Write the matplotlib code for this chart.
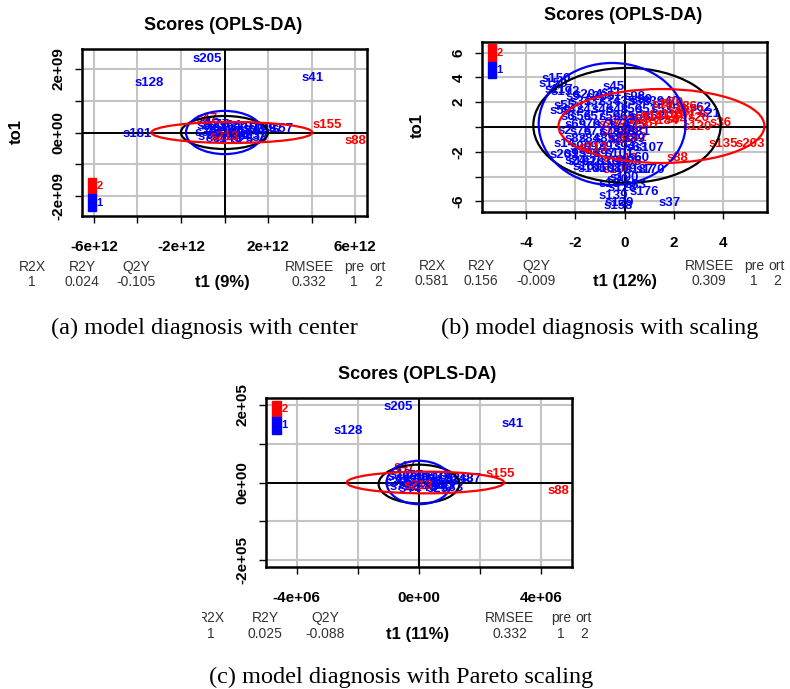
import matplotlib
matplotlib.use('Agg')
import matplotlib.pyplot as plt
from matplotlib.patches import Ellipse, Rectangle
from matplotlib.transforms import Bbox, TransformedBbox

W, H = 790, 689
plt.rcParams['font.family'] = ['Liberation Sans', 'DejaVu Sans']

BLUE = '#0000ff'
RED = '#ff0000'
GRID = '#c4c4c4'
GROUP_COL = {1: BLUE, 2: RED}

# ---------------- (a) centering : t1 in units of 1e12, to1 in units of 1e9
a_names = ['s128', 's205', 's41', 's181', 's47',
           's3', 's12', 's90', 's77', 's15', 's64', 's63', 's101', 's52', 's148',
           's97', 's57', 's30', 's8', 's19', 's112', 's66', 's83', 's33', 's140',
           's25', 's71', 's176', 's44',
           's213', 's155', 's88']
a_t1 = [-3.45, -0.78, 4.05, -4.0, -0.8,
        -0.95, -0.7, -0.5, -0.25, -0.05, 0.3, 0.6, 0.95, 1.35, 1.75,
        2.2, 2.65, -0.85, -0.5, -0.2, 0.25, 0.65, 1.15, 1.5, 0.15,
        0.85, -0.75, 1.0, -0.35,
        -0.03, 4.73, 6.0]
a_to1 = [1.57, 2.33, 1.73, -0.06, 0.44,
         0.22, 0.28, 0.18, 0.24, 0.15, 0.2, 0.12, 0.16, 0.1, 0.12,
         0.1, 0.1, -0.02, -0.08, 0.02, -0.05, -0.12, -0.1, -0.18, -0.2,
         -0.24, -0.14, 0.02, -0.2,
         -0.13, 0.25, -0.28]
a_grp = [1, 1, 1, 1, 2] + [1] * 24 + [2, 2, 2]
# ellipses: black (all), blue (group 1), red (group 2)
a_ell_x = [0.0, 0.0, 0.34]
a_ell_y = [0.0, 0.0, 0.0]
a_ell_w = [4.0, 3.54, 7.4]
a_ell_h = [1.04, 1.36, 0.66]
a_xticks = [-6, -4, -2, 0, 2, 4, 6]
a_xlabels = ['-6e+12', '', '-2e+12', '', '2e+12', '', '6e+12']
a_yticks = [-2, -1, 0, 1, 2]
a_ylabels = ['-2e+09', '', '0e+00', '', '2e+09']
a_diag = ['1', '0.024', '-0.105', '0.332', '1', '2']
a_xlab = 't1 (9%)'

# ---------------- (b) unit variance scaling
# red samples sitting in the middle of the blue cloud (drawn underneath it)
b_red0_names = ['s5', 's133', 's73', 's27', 's155', 's110', 's142', 's183', 's213', 's100',
                's114', 's47']
b_red0_t1 = [0.3, -0.2, 0.5, -0.6, 0.1, -0.4, 0.3, -0.1, -1.25, -0.3, -0.3, 0.1]
b_red0_to1 = [0.6, 0.45, 0.05, 0.2, -0.2, -0.5, -0.9, -1.05, -1.7, -3.5, -2.8, -2.6]
b_blue_names = ['s159', 's150', 's192', 's117', 's204', 's45', 's11', 's98', 's99', 's62',
                's21', 's9', 's205', 's55', 's58', 's6', 's2', 's14', 's201', 's24',
                's31', 's32', 's34', 's35', 's38', 's39', 's40',
                's42', 's43', 's46', 's48', 's50', 's51', 's53', 's54',
                's56', 's57', 's59', 's65', 's66', 's68',
                's69', 's70', 's71', 's74', 's75',
                's76', 's77', 's78', 's80', 's81',
                's82', 's84', 's85', 's87', 's89',
                's90', 's92', 's93', 's94',
                's95', 's96', 's97', 's101',
                's102', 's103', 's104', 's105',
                's106', 's108', 's109',
                's107', 's63', 's60', 's170', 's187', 's176', 's139', 's158', 's129',
                's37', 's30', 's18', 's161', 's190', 's83', 's128']
b_blue_t1 = [-2.9, -2.75, -2.4, -2.65, -1.45, -0.45, -0.55, 0.4, 0.7, 3.1,
             3.45, -2.1, -1.0, -2.45, -2.6, -2.3, -2.4, -2.45, -2.45, -2.0,
             -1.8, -1.2, -0.6, 0.0, 0.6, 1.2, 1.8,
             -2.1, -1.5, -0.9, -0.3, 0.3, 0.9, 1.5, 2.1,
             -1.8, -1.2, -0.6, 0.0, 0.6, 1.2,
             -2.0, -1.4, -0.8, -0.2, 0.4,
             -1.8, -1.2, -0.6, 0.0, 0.6,
             -2.0, -1.4, -0.8, -0.2, 0.4,
             -1.8, -1.2, -0.6, 0.0,
             -2.0, -1.4, -0.8, -0.2,
             -1.7, -1.1, -0.5, 0.1,
             -1.3, -0.7, -0.1,
             1.0, 0.5, 0.55, 1.05, 0.6, 0.8, -0.45, -0.25, -0.2,
             1.85, -0.3, -0.6, -1.5, 0.0, 0.45, -0.1]
b_blue_to1 = [3.5, 3.85, 2.8, 2.95, 2.6, 3.2, 2.7, 2.4, 2.2, 1.5,
              1.05, 2.4, 2.45, 1.7, 1.25, 0.8, -0.35, -1.35, -2.25, -2.7,
              2.0, 2.0, 2.0, 2.0, 2.0, 2.0, 2.0,
              1.4, 1.4, 1.4, 1.4, 1.4, 1.4, 1.4, 1.4,
              0.8, 0.8, 0.8, 0.8, 0.8, 0.8,
              0.2, 0.2, 0.2, 0.2, 0.2,
              -0.4, -0.4, -0.4, -0.4, -0.4,
              -1.0, -1.0, -1.0, -1.0, -1.0,
              -1.6, -1.6, -1.6, -1.6,
              -2.2, -2.2, -2.2, -2.2,
              -2.8, -2.8, -2.8, -2.8,
              -3.4, -3.4, -3.4,
              -1.7, -1.7, -2.5, -3.5, -3.5, -5.2, -5.6, -6.4, -6.1,
              -6.1, -4.3, -4.6, -3.2, -4.1, -4.7, -4.9]
# red samples on the right-hand side (drawn on top)
b_red1_names = ['s79', 's19', 's86', 's49', 's72', 's116', 's61', 's141', 's26', 's91',
                's64', 's184', 's36', 's67', 's120', 's88', 's135', 's203', 's213']
b_red1_t1 = [1.95, 1.55, 2.5, 2.2, 2.8, 1.8, 2.45, 1.3, 3.0, 0.8,
             2.1, 1.6, 3.9, 1.0, 2.95, 2.15, 4.0, 5.1, -1.25]
b_red1_to1 = [1.9, 1.75, 1.6, 1.3, 1.2, 1.0, 0.9, 0.85, 0.75, 0.7,
              0.55, 0.45, 0.3, 0.25, 0.0, -2.5, -1.4, -1.4, -1.7]
b_names = b_red0_names + b_blue_names + b_red1_names
b_t1 = b_red0_t1 + b_blue_t1 + b_red1_t1
b_to1 = b_red0_to1 + b_blue_to1 + b_red1_to1
b_grp = [2] * len(b_red0_names) + [1] * len(b_blue_names) + [2] * len(b_red1_names)
b_ell_x = [0.1, -0.5, 1.5]
b_ell_y = [0.13, 0.24, 0.08]
b_ell_w = [7.6, 5.96, 8.35]
b_ell_h = [9.26, 9.84, 5.96]
b_xticks = [-4, -2, 0, 2, 4]
b_xlabels = ['-4', '-2', '0', '2', '4']
b_yticks = [-6, -4, -2, 0, 2, 4, 6]
b_ylabels = ['-6', '', '-2', '', '2', '4', '6']
b_diag = ['0.581', '0.156', '-0.009', '0.309', '1', '2']
b_xlab = 't1 (12%)'

# ---------------- (c) Pareto scaling : t1 in units of 1e6, to1 in units of 1e5
c_names = ['s128', 's205', 's41', 's47',
           's3', 's12', 's90', 's77', 's15', 's64', 's63', 's101', 's52', 's148',
           's87', 's30', 's8', 's19', 's112', 's66', 's83', 's33', 's140',
           's25', 's71', 's176', 's44',
           's213', 's155', 's88']
c_t1 = [-2.32, -0.69, 3.07, -0.46,
        -0.8, -0.6, -0.4, -0.2, 0.0, 0.2, 0.4, 0.7, 1.0, 1.3,
        1.67, -0.75, -0.45, -0.15, 0.2, 0.5, 0.85, 1.1, 0.1,
        0.6, -0.6, 0.8, -0.3,
        -0.03, 2.65, 4.57]
c_to1 = [1.34, 1.96, 1.52, 0.39,
         0.15, 0.2, 0.12, 0.18, 0.1, 0.15, 0.13, 0.12, 0.1, 0.1,
         0.1, -0.02, -0.06, 0.03, -0.04, -0.1, -0.08, -0.13, -0.15,
         -0.18, -0.12, 0.02, -0.16,
         -0.08, 0.23, -0.21]
c_grp = [1, 1, 1, 2] + [1] * 23 + [2, 2, 2]
c_ell_x = [0.0, 0.0, 0.21]
c_ell_y = [-0.04, 0.0, 0.0]
c_ell_w = [2.64, 2.12, 5.14]
c_ell_h = [1.0, 1.12, 0.56]
c_xticks = [-4, -2, 0, 2, 4]
c_xlabels = ['-4e+06', '', '0e+00', '', '4e+06']
c_yticks = [-2, -1, 0, 1, 2]
c_ylabels = ['-2e+05', '', '0e+00', '', '2e+05']
c_diag = ['1', '0.025', '-0.088', '0.332', '1', '2']
c_xlab = 't1 (11%)'

diag_heads = ['R2X', 'R2Y', 'Q2Y', 'RMSEE', 'pre', 'ort']
title = 'Scores (OPLS-DA)'
captions = ['(a) model diagnosis with center',
            '(b) model diagnosis with scaling',
            '(c) model diagnosis with Pareto scaling']

fig = plt.figure(figsize=(W / 100, H / 100), dpi=100)


def fig_box(x0, y0, x1, y1):
    return [x0 / W, 1 - y1 / H, (x1 - x0) / W, (y1 - y0) / H]


def ftext(x, y, s, **kw):
    return fig.text(x / W, 1 - y / H, s, ha='center', va='center', **kw)


def score_panel(box, names, t1, to1, grp, ell, lims, ticks, legend_px):
    ax = fig.add_axes(fig_box(*box))
    ax.set_xlim(-lims[0], lims[0])
    ax.set_ylim(-lims[1], lims[1])
    ax.set_xticks(ticks[0])
    ax.set_xticklabels(ticks[1], fontweight='bold')
    ax.set_yticks(ticks[2])
    ax.set_yticklabels(ticks[3], fontweight='bold', rotation=90, va='center')
    ax.tick_params(direction='out', length=5, width=1, labelsize=11)
    ax.tick_params(axis='x', pad=12)
    ax.tick_params(axis='y', pad=7)
    ax.grid(True, color=GRID, lw=1.5)
    ax.set_axisbelow(True)
    for sp in ax.spines.values():
        sp.set_linewidth(1.8)
    ax.axhline(0, color='black', lw=1.4, zorder=1.5)
    ax.axvline(0, color='black', lw=1.4, zorder=1.5)
    for n, x, y, g in zip(names, t1, to1, grp):
        ax.text(x, y, n, color=GROUP_COL[g], ha='center', va='center',
                fontsize=9.5, fontweight='bold', clip_on=True, zorder=3)
    for (ex, ey, ew, eh), col in zip(zip(*ell), ['black', BLUE, RED]):
        ax.add_patch(Ellipse((ex, ey), ew, eh, fill=False, ec=col, lw=1.6, zorder=4))
    # group colour key
    lx0, lx1, ly0, ly1, ly2 = legend_px
    fig.add_artist(Rectangle((lx0 / W, 1 - ly1 / H), (lx1 - lx0) / W, (ly1 - ly0) / H,
                             transform=fig.transFigure, color=RED, zorder=5))
    fig.add_artist(Rectangle((lx0 / W, 1 - ly2 / H), (lx1 - lx0) / W, (ly2 - ly1) / H,
                             transform=fig.transFigure, color=BLUE, zorder=5))
    ftext(lx1 + 3.5, (ly0 + ly1) / 2, '2', color=RED, fontsize=8, fontweight='bold')
    ftext(lx1 + 3.5, (ly1 + ly2) / 2, '1', color=BLUE, fontsize=8, fontweight='bold')
    return ax


def diag_rows(xs, y0, y1, values, clip=None):
    for x, head, val in zip(xs, diag_heads, values):
        t1_ = ftext(x, y0, head, fontsize=10, color='#333333')
        t2_ = ftext(x, y1, val, fontsize=10, color='#333333')
        if clip is not None:
            bb = TransformedBbox(Bbox([[clip / W, 0], [1, 1]]), fig.transFigure)
            for t in (t1_, t2_):
                t.set_clip_box(bb)
                t.set_clip_on(True)


# (a)
score_panel((82, 49, 367, 216), a_names, a_t1, a_to1, a_grp,
            (a_ell_x, a_ell_y, a_ell_w, a_ell_h), (6.55, 2.63),
            (a_xticks, a_xlabels, a_yticks, a_ylabels), (88, 96, 178, 194, 211))
ftext(223, 25, title, fontsize=13, fontweight='bold')
ftext(16, 132, 'to1', fontsize=12, fontweight='bold', rotation=90)
ftext(222, 282, a_xlab, fontsize=12, fontweight='bold')
diag_rows([32, 82, 136, 309, 354, 378], 267, 282, a_diag)

# (b)
score_panel((482, 42, 767, 212), b_names, b_t1, b_to1, b_grp,
            (b_ell_x, b_ell_y, b_ell_w, b_ell_h), (5.78, 6.85),
            (b_xticks, b_xlabels, b_yticks, b_ylabels), (488, 496, 44, 62, 78))
ftext(623, 15, title, fontsize=13, fontweight='bold')
ftext(417, 126, 'to1', fontsize=12, fontweight='bold', rotation=90)
ftext(625, 281, b_xlab, fontsize=12, fontweight='bold')
diag_rows([432, 481, 536, 709, 754, 777], 266, 281, b_diag)

# (c)
score_panel((266, 398, 572, 567), c_names, c_t1, c_to1, c_grp,
            (c_ell_x, c_ell_y, c_ell_w, c_ell_h), (5.0, 2.18),
            (c_xticks, c_xlabels, c_yticks, c_ylabels), (272, 281, 401, 417, 434))
ftext(417, 375, title, fontsize=13, fontweight='bold')
ftext(418, 634, c_xlab, fontsize=12, fontweight='bold')
diag_rows([211, 265, 325, 510, 561, 584], 618, 634, c_diag, clip=202)

# captions
for (cx, cy), cap in zip([(204, 328), (600, 328), (401, 677)], captions):
    ftext(cx, cy, cap, fontsize=17.5, family=['Liberation Serif', 'DejaVu Serif'])

fig.savefig('out.png', dpi=100)
